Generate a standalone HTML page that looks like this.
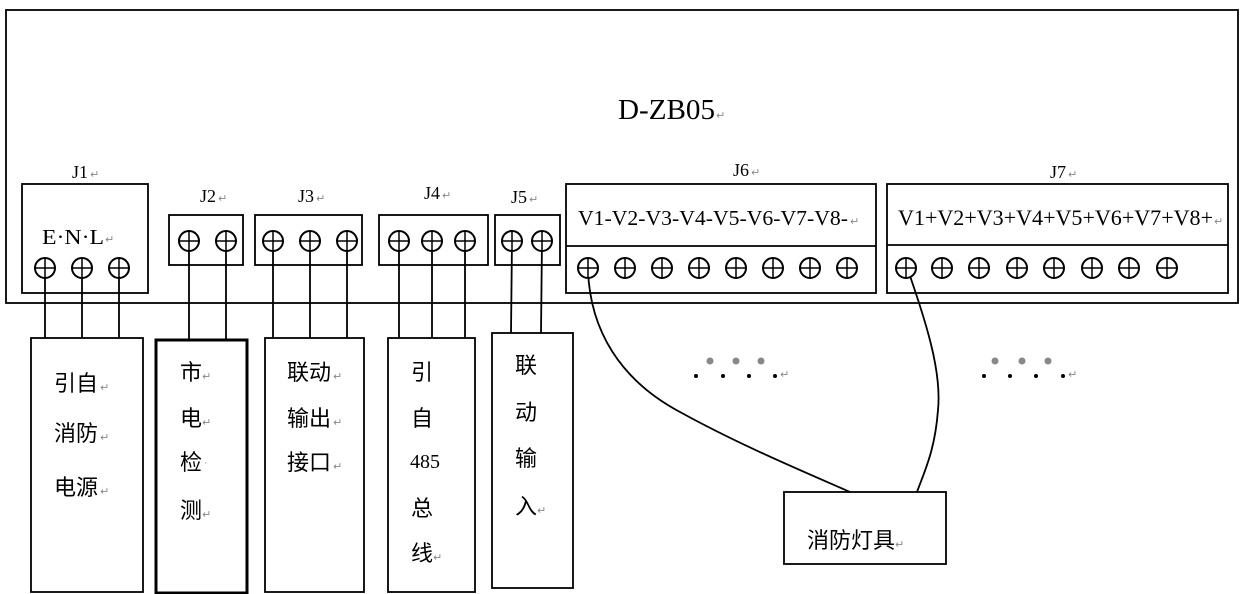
<!DOCTYPE html>
<html><head><meta charset="utf-8"><style>
html,body{margin:0;padding:0;background:#fff;}
svg{display:block;}
.s{font-family:"Liberation Serif","Noto Serif CJK SC",serif;}
.c{font-family:"Liberation Sans","Noto Sans CJK SC",sans-serif;}
.r{fill:#888;font-size:11px;font-family:"Liberation Sans","DejaVu Sans",sans-serif;}
</style></head><body>
<svg width="1242" height="594" viewBox="0 0 1242 594" xmlns="http://www.w3.org/2000/svg">
<defs>
<g id="t"><circle r="10" fill="#fff" stroke="#000" stroke-width="2"/><line x1="-10" y1="0" x2="10" y2="0" stroke="#000" stroke-width="1.5"/><line x1="0" y1="-10" x2="0" y2="10" stroke="#000" stroke-width="1.5"/></g>
</defs>
<g fill="none" stroke="#000" stroke-width="1.8">
<rect x="6" y="10" width="1232" height="293"/>
<rect x="22" y="184" width="126" height="109"/>
<rect x="169" y="215" width="74" height="50"/>
<rect x="255" y="215" width="107" height="50"/>
<rect x="379" y="215" width="109" height="50"/>
<rect x="495" y="215" width="65" height="50"/>
<rect x="566" y="184" width="310" height="109"/>
<line x1="566" y1="246" x2="876" y2="246"/>
<rect x="887" y="184" width="341" height="109"/>
<line x1="887" y1="245" x2="1228" y2="245"/>
<path d="M45 268V338M82 268V338M119 268V338M189 240V340M226 240V340M273 240V338M310 240V338M347 240V338M399 240V338M432 240V338M465 240V338M512 240L511 333M542 240L541 333"/>
<rect x="31" y="338" width="112" height="254"/>
<rect x="156" y="340" width="91" height="253" stroke-width="3"/>
<rect x="265" y="338" width="99" height="254"/>
<rect x="388" y="338" width="87" height="254"/>
<rect x="492" y="333" width="81" height="255"/>
<rect x="784" y="492" width="162" height="72"/>
<path d="M588 270 C590 330 620 380 680 412 C740 445 800 470 850 492"/>
<path d="M908 270 C925 320 942 370 938 410 C935 450 925 470 917 492"/>
</g>
<g fill="#000">
<use href="#t" x="45" y="268"/><use href="#t" x="82" y="268"/><use href="#t" x="119" y="268"/>
<use href="#t" x="189" y="241"/><use href="#t" x="226" y="241"/>
<use href="#t" x="273" y="241"/><use href="#t" x="310" y="241"/><use href="#t" x="347" y="241"/>
<use href="#t" x="399" y="241"/><use href="#t" x="432" y="241"/><use href="#t" x="465" y="241"/>
<use href="#t" x="512" y="241"/><use href="#t" x="542" y="241"/>
<use href="#t" x="588" y="268"/><use href="#t" x="625" y="268"/><use href="#t" x="662" y="268"/><use href="#t" x="699" y="268"/><use href="#t" x="736" y="268"/><use href="#t" x="773" y="268"/><use href="#t" x="810" y="268"/><use href="#t" x="847" y="268"/>
<use href="#t" x="906" y="268"/><use href="#t" x="942" y="268"/><use href="#t" x="979" y="268"/><use href="#t" x="1017" y="268"/><use href="#t" x="1054" y="268"/><use href="#t" x="1092" y="268"/><use href="#t" x="1129" y="268"/><use href="#t" x="1167" y="268"/>
</g>
<g fill="#888"><circle cx="710" cy="361" r="3.5"/><circle cx="736" cy="361" r="3.5"/><circle cx="761" cy="361" r="3.5"/>
<circle cx="995" cy="361" r="3.5"/><circle cx="1022" cy="361" r="3.5"/><circle cx="1048" cy="361" r="3.5"/></g>
<g fill="#000"><circle cx="696" cy="376" r="2"/><circle cx="723" cy="376" r="2"/><circle cx="749" cy="376" r="2"/><circle cx="775" cy="376" r="2"/>
<circle cx="984" cy="376" r="2"/><circle cx="1010" cy="376" r="2"/><circle cx="1036" cy="376" r="2"/><circle cx="1063" cy="376" r="2"/></g>
<text class="r" x="780" y="378">↵</text><text class="r" x="1068" y="378">↵</text>
<g class="s" fill="#000">
<text x="618" y="119" font-size="28" textLength="97" lengthAdjust="spacingAndGlyphs">D-ZB05</text><text class="r" x="716" y="119">↵</text>
<text x="72" y="178" font-size="18">J1</text><text class="r" x="90" y="178">↵</text>
<text x="200" y="202" font-size="18">J2</text><text class="r" x="218" y="202">↵</text>
<text x="298" y="202" font-size="18">J3</text><text class="r" x="316" y="202">↵</text>
<text x="424" y="199" font-size="18">J4</text><text class="r" x="442" y="199">↵</text>
<text x="511" y="203" font-size="18">J5</text><text class="r" x="529" y="203">↵</text>
<text x="733" y="176" font-size="18">J6</text><text class="r" x="751" y="176">↵</text>
<text x="1050" y="178" font-size="18">J7</text><text class="r" x="1068" y="178">↵</text>
<text x="42" y="244" font-size="21" textLength="62" lengthAdjust="spacingAndGlyphs">E·N·L</text><text class="r" x="105" y="243">↵</text>
<text x="578" y="225" font-size="21" textLength="270" lengthAdjust="spacingAndGlyphs">V1-V2-V3-V4-V5-V6-V7-V8-</text><text class="r" x="850" y="225">↵</text>
<text x="898" y="225" font-size="22" textLength="315" lengthAdjust="spacingAndGlyphs">V1+V2+V3+V4+V5+V6+V7+V8+</text><text class="r" x="1214" y="225">↵</text>
<text x="410" y="468" font-size="20">485</text>
</g>
<g class="c" fill="#000" font-size="22">
<text x="54" y="391">引自</text><text class="r" x="100" y="391">↵</text>
<text x="54" y="441">消防</text><text class="r" x="100" y="441">↵</text>
<text x="54" y="495">电源</text><text class="r" x="100" y="495">↵</text>
<text x="180" y="380">市</text><text class="r" x="202" y="380">↵</text>
<text x="180" y="426">电</text><text class="r" x="202" y="426">↵</text>
<text x="180" y="470">检</text><text class="r" x="204" y="466">·</text>
<text x="180" y="518">测</text><text class="r" x="202" y="518">↵</text>
<text x="287" y="380">联动</text><text class="r" x="333" y="380">↵</text>
<text x="287" y="426">输出</text><text class="r" x="333" y="426">↵</text>
<text x="287" y="470">接口</text><text class="r" x="333" y="470">↵</text>
<text x="411" y="380">引</text>
<text x="411" y="426">自</text>
<text x="411" y="516">总</text>
<text x="411" y="561">线</text><text class="r" x="433" y="561">↵</text>
<text x="515" y="373">联</text>
<text x="515" y="420">动</text>
<text x="515" y="466">输</text>
<text x="515" y="514">入</text><text class="r" x="537" y="514">↵</text>
<text x="807" y="548">消防灯具</text><text class="r" x="895" y="548">↵</text>
</g>
</svg>
</body></html>
